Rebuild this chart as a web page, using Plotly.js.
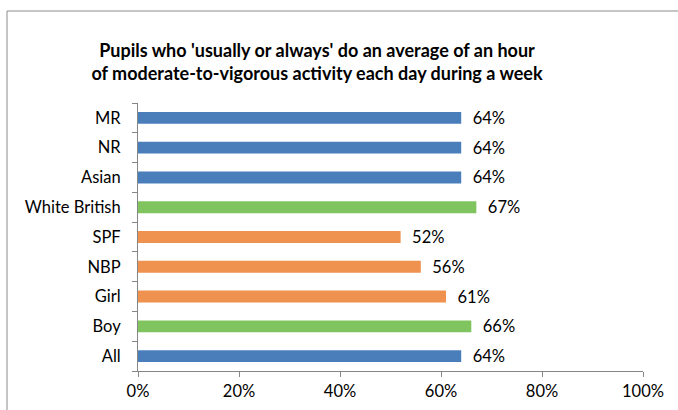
<!DOCTYPE html>
<html>
<head>
<meta charset="utf-8">
<script src="https://cdn.plot.ly/plotly-3.0.1.min.js"></script>
<style>
  html, body { margin: 0; padding: 0; background: #fff; }
  #chart { width: 678px; height: 410px; }
</style>
</head>
<body>
<div id="chart"></div>
<script>
const categories = ['All', 'Boy', 'Girl', 'NBP', 'SPF', 'White British', 'Asian', 'NR', 'MR'];
const values = [64, 66, 61, 56, 52, 67, 64, 64, 64];
const xTicks = [0, 20, 40, 60, 80, 100];

const BLUE = '#4A7EBB', GREEN = '#7FC45F', ORANGE = '#EF914F';
const barColors = [BLUE, GREEN, ORANGE, ORANGE, ORANGE, GREEN, BLUE, BLUE, BLUE];

const FONT = 'Lato, "Open Sans", sans-serif';
const W = 678, H = 410;
const L = 138, R = 35, T = 103, B = 39;
const pw = W - L - R, ph = H - T - B;
const bx = (7 - L) / pw, by = (H - B - 11) / ph;

const trace = {
  type: 'bar',
  orientation: 'h',
  y: categories,
  x: values,
  marker: { color: barColors },
  width: 0.4,
  text: values.map(v => '  ' + v + '%'),
  texttemplate: '%{text}',
  textposition: 'outside',
  textfont: { family: FONT, size: 16.5, color: '#000' },
  cliponaxis: false,
  constraintext: 'none',
  hoverinfo: 'skip'
};

const layout = {
  width: W, height: H,
  margin: { l: L, r: R, t: T, b: B },
  paper_bgcolor: '#fff',
  plot_bgcolor: '#fff',
  font: { family: FONT, size: 16.5, color: '#000' },
  showlegend: false,
  title: {
    text: "<b>Pupils who 'usually or always' do an average of an hour<br>of moderate-to-vigorous activity each day during a week</b>",
    font: { family: FONT, size: 18, color: '#000' },
    x: 317 / W, xanchor: 'center',
    y: 1 - 57 / H, yanchor: 'middle'
  },
  xaxis: {
    range: [0, 100],
    tickvals: xTicks,
    ticktext: xTicks.map(v => v + '%'),
    showgrid: false,
    zeroline: false,
    showline: true,
    linecolor: '#868686',
    linewidth: 1,
    ticks: 'outside',
    ticklen: 5,
    tickcolor: '#868686',
    tickfont: { family: FONT, size: 16.5, color: '#000' },
    fixedrange: true
  },
  yaxis: {
    type: 'category',
    range: [-0.5, 8.5],
    showgrid: false,
    zeroline: false,
    showline: true,
    linecolor: '#868686',
    linewidth: 1,
    ticks: 'outside',
    tickson: 'boundaries',
    ticklen: 5,
    tickcolor: '#868686',
    ticklabelstandoff: 13,
    tickfont: { family: FONT, size: 16.5, color: '#000' },
    fixedrange: true
  },
  shapes: [
    { type: 'line', xref: 'paper', yref: 'paper', x0: bx, x1: bx, y0: -1, y1: by,
      line: { color: '#8c8c8c', width: 1 } },
    { type: 'line', xref: 'paper', yref: 'paper', x0: bx, x1: 1.2, y0: by, y1: by,
      line: { color: '#8c8c8c', width: 1 } }
  ]
};

Plotly.newPlot('chart', [trace], layout, { displayModeBar: false, staticPlot: true });
</script>
</body>
</html>
